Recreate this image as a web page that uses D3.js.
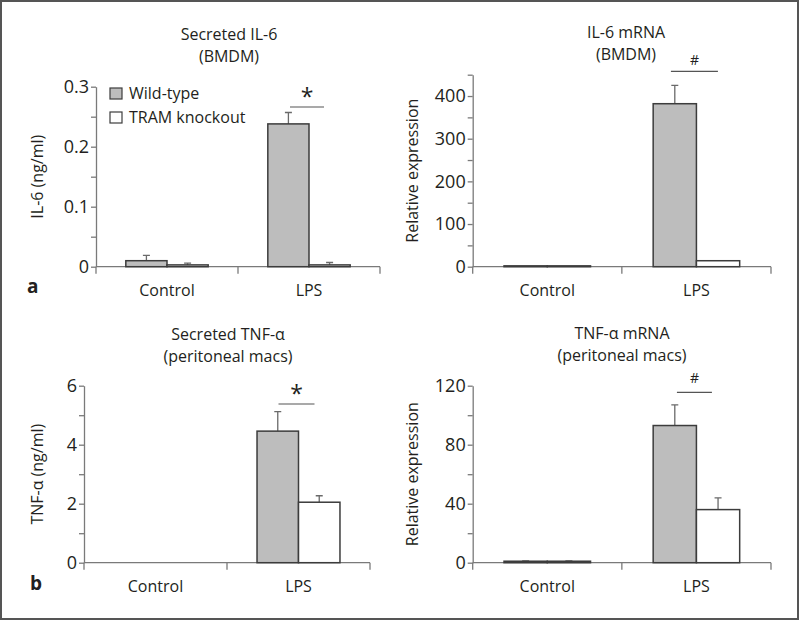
<!DOCTYPE html>
<html>
<head>
<meta charset="utf-8">
<script src="https://cdn.jsdelivr.net/npm/d3@7"></script>
<style>
  body { margin: 0; background: #fff; }
  text { font-family: "Open Sans", sans-serif; fill: #231f20; }
</style>
</head>
<body>
<svg id="fig" width="800" height="621"></svg>
<script>
const categories = ["Control", "LPS"];
const seriesNames = ["Wild-type", "TRAM knockout"];

// secreted IL-6, BMDM (ng/ml)
const il6SecWT = [0.010, 0.238];
const il6SecWTErr = [0.009, 0.019];
const il6SecKO = [0.003, 0.003];
const il6SecKOErr = [0.003, 0.004];

// IL-6 mRNA, BMDM (relative expression)
const il6MrnaWT = [2, 382];
const il6MrnaWTErr = [0, 43];
const il6MrnaKO = [2, 14];
const il6MrnaKOErr = [0, 0];

// secreted TNF-alpha, peritoneal macs (ng/ml)
const tnfSecWT = [0, 4.46];
const tnfSecWTErr = [0, 0.66];
const tnfSecKO = [0, 2.05];
const tnfSecKOErr = [0, 0.22];

// TNF-alpha mRNA, peritoneal macs (relative expression)
const tnfMrnaWT = [1, 93];
const tnfMrnaWTErr = [0.3, 14];
const tnfMrnaKO = [1, 36];
const tnfMrnaKOErr = [0.3, 8];

const fills = ["#bdbdbd", "#ffffff"];
const axisColor = "#7a7a7a";

const panels = [
    {title: ["Secreted IL-6", "(BMDM)"], ylabel: "IL-6 (ng/ml)", letter: "a",
     values: [il6SecWT, il6SecKO], errors: [il6SecWTErr, il6SecKOErr],
     yMax: 0.3, minor: 0.05, major: 0.1, sig: "*",
     x0: 96, x1: 380, y0: 266.7, yTop: 86.7,
     tx: 229, ty: 40, ylx: 43, lx: 27, ly: 293, sigHalf: 17, sigY: 107, symY: 105, symSize: 23},
    {title: ["IL-6 mRNA", "(BMDM)"], ylabel: "Relative expression",
     values: [il6MrnaWT, il6MrnaKO], errors: [il6MrnaWTErr, il6MrnaKOErr],
     yMax: 450, minor: 50, major: 100, sig: "#",
     x0: 472.7, x1: 771, y0: 266.7, yTop: 74.7,
     tx: 626, ty: 38, ylx: 418, sigHalf: 23.5, sigY: 71.3, symY: 65, symSize: 14},
    {title: ["Secreted TNF-\u03b1", "(peritoneal macs)"], ylabel: "TNF-\u03b1 (ng/ml)", letter: "b",
     values: [tnfSecWT, tnfSecKO], errors: [tnfSecWTErr, tnfSecKOErr],
     yMax: 6, minor: 1, major: 2, sig: "*",
     x0: 84, x1: 370, y0: 562.7, yTop: 385.7,
     tx: 228, ty: 340, ylx: 43, lx: 30, ly: 590, sigHalf: 18, sigY: 404, symY: 402, symSize: 23},
    {title: ["TNF-\u03b1 mRNA", "(peritoneal macs)"], ylabel: "Relative expression",
     values: [tnfMrnaWT, tnfMrnaKO], errors: [tnfMrnaWTErr, tnfMrnaKOErr],
     yMax: 120, minor: 20, major: 40, sig: "#",
     x0: 472.7, x1: 771, y0: 562.7, yTop: 385.7,
     tx: 622, ty: 339, ylx: 418, sigHalf: 17.5, sigY: 392.3, symY: 383, symSize: 14}
];

const svg = d3.select("#fig");

svg.append("rect")
    .attr("x", 1).attr("y", 1)
    .attr("width", 797).attr("height", 618)
    .attr("fill", "none")
    .attr("stroke", "#555")
    .attr("stroke-width", 2);

panels.forEach(p => {
    const g = svg.append("g");

    const y = d3.scaleLinear().domain([0, p.yMax]).range([p.y0, p.yTop]);
    const x = d3.scaleBand().domain(categories).range([p.x0, p.x1]);
    const xs = d3.scaleBand().domain(seriesNames)
        .range([x.bandwidth() * 0.21, x.bandwidth() * 0.79]);

    const isMajor = d => Math.abs(d / p.major - Math.round(d / p.major)) < 1e-6;
    const yAxis = d3.axisLeft(y)
        .tickValues(d3.range(0, p.yMax + p.minor / 2, p.minor))
        .tickFormat(d => isMajor(d) ? String(+d.toFixed(2)) : "")
        .tickSize(5)
        .tickSizeOuter(0)
        .tickPadding(2);

    const ya = g.append("g")
        .attr("transform", `translate(${p.x0},0)`)
        .call(yAxis);
    ya.selectAll("path, line").attr("stroke", axisColor).attr("stroke-width", 1.3);
    ya.selectAll("text").attr("font-size", 18).attr("fill", "#231f20")
        .style("font-family", "'Open Sans', sans-serif");

    // x axis
    g.append("line")
        .attr("x1", p.x0).attr("x2", p.x1)
        .attr("y1", p.y0).attr("y2", p.y0)
        .attr("stroke", axisColor).attr("stroke-width", 1.3);
    const bounds = categories.map(c => x(c)).concat([p.x1]);
    g.selectAll(".xtick").data(bounds).join("line")
        .attr("x1", d => d).attr("x2", d => d)
        .attr("y1", p.y0).attr("y2", p.y0 + 7)
        .attr("stroke", axisColor).attr("stroke-width", 1.3);
    g.selectAll(".xlab").data(categories).join("text")
        .attr("x", d => x(d) + x.bandwidth() / 2)
        .attr("y", p.y0 + 29)
        .attr("text-anchor", "middle")
        .attr("font-size", 16)
        .text(d => d);

    // bars
    const barData = [];
    categories.forEach((c, i) => {
        seriesNames.forEach((s, j) => {
            barData.push({c, s, j, v: p.values[j][i], e: p.errors[j][i]});
        });
    });

    const shown = barData.filter(d => d.v > 0);

    g.selectAll(".err").data(shown.filter(d => d.e > 0)).join("path")
        .attr("d", d => {
            const cx = x(d.c) + xs(d.s) + xs.bandwidth() / 2;
            const top = y(d.v + d.e);
            return `M${cx},${y(d.v)}V${top}M${cx - 3.5},${top}H${cx + 3.5}`;
        })
        .attr("fill", "none")
        .attr("stroke", "#6a6a6a")
        .attr("stroke-width", 1.3);

    g.selectAll(".bar").data(shown).join("rect")
        .attr("x", d => x(d.c) + xs(d.s))
        .attr("y", d => y(d.v))
        .attr("width", xs.bandwidth())
        .attr("height", d => p.y0 - y(d.v))
        .attr("fill", d => fills[d.j])
        .attr("stroke", "#3c3c3c")
        .attr("stroke-width", 1.5);

    // significance marker over LPS
    const sc = x("LPS") + x.bandwidth() / 2 - 2;
    g.append("line")
        .attr("x1", sc - p.sigHalf).attr("x2", sc + p.sigHalf)
        .attr("y1", p.sigY).attr("y2", p.sigY)
        .attr("stroke", "#555").attr("stroke-width", 1.2);
    g.append("text")
        .attr("x", sc).attr("y", p.symY)
        .attr("text-anchor", "middle")
        .attr("font-size", p.symSize)
        .text(p.sig);

    // titles
    g.selectAll(".title").data(p.title).join("text")
        .attr("x", p.tx)
        .attr("y", (d, i) => p.ty + i * 22)
        .attr("text-anchor", "middle")
        .attr("font-size", 16)
        .text(d => d);

    g.append("text")
        .attr("transform", `translate(${p.ylx},${(p.y0 + p.yTop) / 2}) rotate(-90)`)
        .attr("text-anchor", "middle")
        .attr("font-size", 16)
        .text(p.ylabel);

    if (p.letter) {
        g.append("text")
            .attr("x", p.lx).attr("y", p.ly)
            .attr("font-size", 19)
            .attr("font-weight", "bold")
            .text(p.letter);
    }
});

// legend (panel a)
const legend = svg.append("g").attr("transform", "translate(110,88)");
legend.selectAll("rect").data(seriesNames).join("rect")
    .attr("x", 0)
    .attr("y", (d, i) => i * 24)
    .attr("width", 12).attr("height", 11)
    .attr("fill", (d, i) => fills[i])
    .attr("stroke", "#3c3c3c")
    .attr("stroke-width", 1.2);
legend.selectAll("text").data(seriesNames).join("text")
    .attr("x", 19)
    .attr("y", (d, i) => 11 + i * 24)
    .attr("font-size", 16)
    .text(d => d);
</script>
</body>
</html>
